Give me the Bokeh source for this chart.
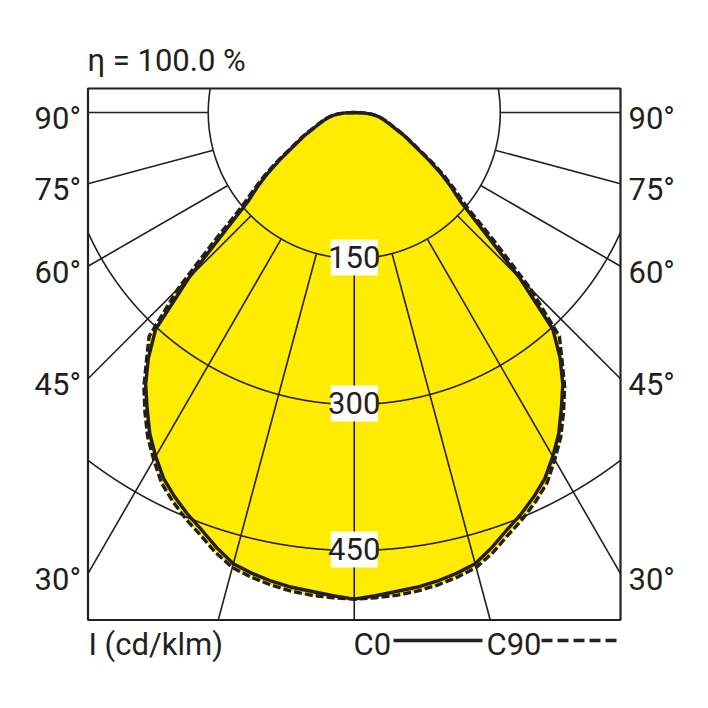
import numpy as np
from bokeh.plotting import figure
from bokeh.models import Range1d
from bokeh.embed import file_html
from bokeh.resources import INLINE
from bokeh.core.properties import value

# ---------------- data ----------------
gamma_deg = [0, 2.5, 5, 7.5, 10, 12.5, 15, 17.5, 20, 22.5, 25, 27.5, 30, 32.5, 35,
             37.5, 40, 42.5, 45, 47.5, 50, 52.5, 55, 57.5, 60, 62.5, 65, 67.5, 70,
             72.5, 75, 77.5, 80, 82.5, 85, 87.5, 90]
c0_cdklm = [500, 497, 494, 492, 489, 485, 480, 469, 457, 447, 436, 424, 408, 391, 371,
            352, 329, 302, 240, 180, 143, 125, 108, 91, 76, 65, 57, 48, 42,
            37, 33, 29, 26, 21, 16, 9, 0]
c90_cdklm = [500, 499, 498, 496, 493, 489, 484, 474, 462, 452, 441, 429, 412, 395, 375,
             355, 332, 312, 256, 194, 151, 130, 112, 94, 78, 67, 58, 50, 43,
             38, 34, 30, 26, 22, 17, 9, 0]
grid_circles = [150, 300, 450]
grid_labels = ["150", "300", "450"]
radial_angles = [0, 15, 30, 45, 60, 75, 90]
angle_ticks = [30, 45, 60, 75, 90]
angle_labels = ["30°", "45°", "60°", "75°", "90°"]
title_text = "η = 100.0 %"
unit_text = "I (cd/klm)"
legend_names = ["C0", "C90"]

# ---------------- layout / style ----------------
CX, CY = 353.75, 112.0          # polar centre (page px)
S = 146.0 / 150.0                # px per cd/klm
L, R, T, B = 87.5, 620.0, 88.0, 619.5
DARK = "#231F20"
YELLOW = "#FFEC00"
FONT = "Roboto"
FS = "31px"
DY = -11.5                       # text baseline correction

p = figure(width=692, height=692, x_range=Range1d(0, 692), y_range=Range1d(692, 0),
           output_backend="svg", toolbar_location=None, min_border=0,
           x_axis_type=None, y_axis_type=None)
p.grid.visible = False
p.outline_line_color = None
p.background_fill_color = "white"
p.border_fill_color = "white"


def curve_xy(vals):
    g = np.radians(np.array(gamma_deg, dtype=float))
    v = np.array(vals, dtype=float) * S
    gl = -g[::-1]
    vl = v[::-1]
    ga = np.concatenate([gl, g[1:]])
    va = np.concatenate([vl, v[1:]])
    return CX + va * np.sin(ga), CY + va * np.cos(ga)


x90, y90 = curve_xy(c90_cdklm)
x0, y0 = curve_xy(c0_cdklm)

# fills
p.patch(x90, y90, fill_color=YELLOW, line_color=None)
p.patch(x0, y0, fill_color=YELLOW, line_color=None)

# grid circles (clipped to frame)
for r in grid_circles:
    phi = np.radians(np.linspace(-180, 180, 14401))
    xs = CX + r * S * np.sin(phi)
    ys = CY + r * S * np.cos(phi)
    inside = (xs >= L) & (xs <= R) & (ys >= T) & (ys <= B)
    xs = np.where(inside, xs, np.nan)
    ys = np.where(inside, ys, np.nan)
    p.line(xs, ys, line_color=DARK, line_width=1.6)


def ray_end(phi_deg):
    ph = np.radians(phi_deg)
    sx, sy = np.sin(ph), np.cos(ph)
    ts = []
    if sx > 1e-9:
        ts.append((R - CX) / sx)
    if sx < -1e-9:
        ts.append((L - CX) / sx)
    if sy > 1e-9:
        ts.append((B - CY) / sy)
    t = min(ts)
    return CX + t * sx, CY + t * sy


# radial lines
r0 = grid_circles[0] * S
for a in radial_angles:
    for sgn in ([1] if a == 0 else [-1, 1]):
        ph = np.radians(sgn * a)
        xa, ya = CX + r0 * np.sin(ph), CY + r0 * np.cos(ph)
        xb, yb = ray_end(sgn * a)
        p.line([xa, xb], [ya, yb], line_color=DARK, line_width=1.6)

# curves
p.line(x90, y90, line_color=DARK, line_width=3.4, line_dash="8 3")
p.line(x0, y0, line_color=DARK, line_width=3.4)

# frame
p.quad(left=[L], right=[R], top=[T], bottom=[B], fill_color=None,
       line_color=DARK, line_width=2.2)

# intensity labels with white boxes
lab_y = [CY + r * S for r in grid_circles]
p.rect(x=[CX] * len(grid_circles), y=[yy - 1 for yy in lab_y], width=47, height=36,
       width_units="screen", height_units="screen", fill_color="white", line_color=None)
p.text(x=[CX] * len(grid_circles), y=[yy + 10 + DY for yy in lab_y], text=grid_labels,
       text_font=value(FONT), text_font_size=FS, text_color=DARK,
       text_align="center", text_baseline="alphabetic")

# angle labels, left and right
ly = []
for a in angle_ticks:
    xe, ye = ray_end(-a)
    ly.append(ye + 17.5 + DY)
p.text(x=[L - 7] * len(ly), y=ly, text=angle_labels, text_font=value(FONT),
       text_font_size=FS, text_color=DARK, text_align="right", text_baseline="alphabetic")
p.text(x=[R + 8] * len(ly), y=ly, text=angle_labels, text_font=value(FONT),
       text_font_size=FS, text_color=DARK, text_align="left", text_baseline="alphabetic")

# title and unit
p.text(x=[87], y=[71 + DY], text=[title_text], text_font=value(FONT), text_font_size=FS,
       text_color=DARK, text_align="left", text_baseline="alphabetic")
p.text(x=[88], y=[655 + DY], text=[unit_text], text_font=value(FONT), text_font_size=FS,
       text_color=DARK, text_align="left", text_baseline="alphabetic")

# legend
p.text(x=[353, 486], y=[655 + DY, 655 + DY], text=legend_names, text_font=value(FONT),
       text_font_size=FS, text_color=DARK, text_align="left", text_baseline="alphabetic")
p.line([393, 482], [640, 640], line_color=DARK, line_width=3.4)
p.line([541, 617], [640, 640], line_color=DARK, line_width=3.4, line_dash="11 5")

open("out.html", "w").write(file_html(p, INLINE))
